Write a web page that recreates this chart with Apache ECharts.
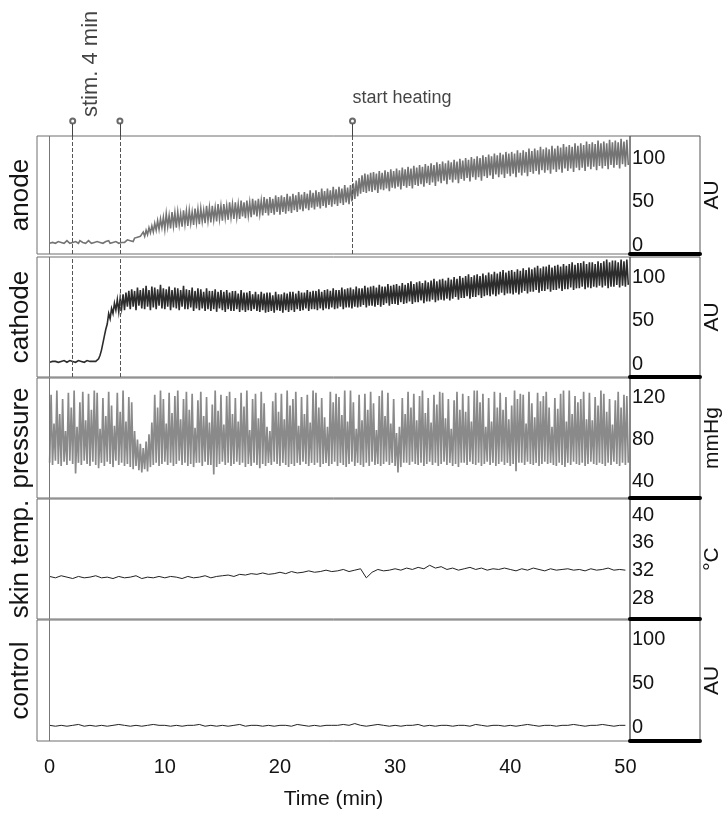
<!DOCTYPE html>
<html><head><meta charset="utf-8">
<script src="https://cdn.jsdelivr.net/npm/echarts@6/dist/echarts.min.js"></script>
<style>html,body{margin:0;padding:0;background:#fff}#c{width:723px;height:813px}</style>
</head><body><div id="c"></div>
<script>
// ---- data ----
const dtFast = 0.125;  // minutes between samples (anode, cathode, pressure)
const dtSlow = 0.5;    // minutes between samples (skin temp, control)
const xTicks = [0, 10, 20, 30, 40, 50];
const eventTimes = [2.0, 6.1, 26.3];      // stim start, stim end, start heating
const stimLabel = 'stim. 4 min';
const heatLabel = 'start heating';
const panelNames = ['anode', 'cathode', 'pressure', 'skin temp.', 'control'];
const panelUnits = ['AU', 'AU', 'mmHg', '°C', 'AU'];
const anodeTicks = [0, 50, 100];
const cathodeTicks = [0, 50, 100];
const pressureTicks = [40, 80, 120];
const skinTicks = [28, 32, 36, 40];
const controlTicks = [0, 50, 100];

const anode = [
2,4,3,5,2,3,4,2, 3,4,2,3,5,3,2,4, 3,2,4,3,2,5,3,3, 4,2,3,5,3,2,4,3,
2,4,3,3,5,2,3,4, 3,5,2,4,3,2,4,3, 2,4,3,5,3,4,6,4, 5,7,4,8,6,9,7,10,
9,15,10,17,12,20,14,22, 15,25,17,28,18,30,20,32, 18,36,21,34,19,38,22,37,
20,38,23,36,21,40,24,39, 22,40,25,38,23,42,26,41, 24,42,27,40,25,45,28,43,
26,45,29,43,27,47,30,45, 28,47,31,45,29,49,32,47, 30,49,32,47,30,51,33,49,
31,51,34,49,32,53,35,51, 33,53,36,51,34,55,37,53, 34,55,37,53,35,57,38,55,
35,57,38,55,36,59,39,56, 37,59,40,57,38,61,41,58, 39,61,42,59,40,63,43,60,
41,63,44,61,42,65,45,62, 43,65,46,63,44,67,47,64, 45,67,48,65,46,69,49,66,
47,69,50,71,53,74,56,77, 59,80,61,82,60,81,62,83, 61,84,63,82,60,85,64,83,
63,86,65,84,62,87,66,85, 65,88,67,86,64,89,68,87, 66,90,68,88,65,91,69,89,
68,92,70,90,67,93,71,91, 69,94,72,92,68,95,73,93, 71,96,74,94,70,97,75,95,
72,98,75,96,71,99,76,97, 74,100,77,98,73,101,78,99, 75,102,78,100,74,103,79,101,
77,104,80,102,76,105,81,103, 78,106,81,104,77,107,82,105, 79,107,82,105,78,109,83,106,
80,109,83,107,79,111,84,108, 82,111,85,109,81,113,86,110, 83,112,86,110,82,114,87,111,
84,114,87,112,83,116,88,113, 85,115,88,113,84,117,89,114, 86,117,89,115,85,119,90,116,
87,118,90,116,86,120,91,117, 88,119,91,117,87,121,92,118, 89,120,92,118,88,122,93,119,
90,121,92
];
const cathode = [
2,4,3,2,3,4,2,3, 3,2,4,3,2,3,4,2, 3,4,2,3,4,2,3,4, 2,3,4,2,3,5,3,2,
3,4,6,10,16,24,32,40, 46,58,52,64,58,70,62,74, 60,76,64,80,62,82,66,84,
63,86,66,84,62,88,67,85, 64,87,63,90,66,85,62,89, 65,88,63,86,67,91,64,87,
63,86,66,89,62,85,65,88, 64,87,62,85,66,90,63,86, 63,85,65,88,61,84,64,87,
62,86,64,83,61,87,63,84, 61,84,63,86,60,83,64,85, 62,83,60,85,63,82,61,84,
61,84,63,81,60,85,62,82, 60,82,62,84,61,80,63,83, 61,80,60,83,62,81,59,82,
60,82,61,79,59,83,62,80, 61,80,59,82,62,81,60,83, 62,83,60,81,63,84,61,82,
62,82,64,85,61,83,63,84, 63,84,62,86,64,83,62,85, 64,86,63,84,65,87,63,85,
64,85,66,88,63,86,65,87, 65,88,64,86,66,89,65,87, 66,87,68,90,65,88,67,89,
67,90,66,88,68,91,66,89, 68,89,70,92,67,90,69,91, 69,92,68,90,71,93,69,91,
70,93,72,95,69,92,71,94, 71,95,73,93,70,96,72,94, 72,96,74,98,71,95,73,97,
74,98,73,96,75,99,73,97, 75,100,77,98,74,101,76,99, 76,101,78,103,75,100,77,102,
77,103,79,101,76,104,78,102, 79,105,78,103,80,106,78,104, 80,106,82,108,79,105,81,107,
81,108,80,106,82,109,80,107, 82,110,84,108,81,111,83,109, 83,111,85,113,82,110,84,112,
84,112,86,114,83,111,85,113, 85,114,87,112,84,115,86,113, 86,115,88,117,85,114,87,116,
87,116,89,118,86,115,88,117, 87,117,89,115,88,118,90,116, 88,118,90,120,87,117,89,119,
89,119,91,117,88,120,90,118, 89,120,91
];
const pressure = [
58,122,56,95,60,126,57,104, 55,118,59,88,56,124,60,110, 57,126,48,92,58,115,56,125,
60,98,57,123,55,108,59,126, 56,124,53,90,58,119,55,102, 59,125,57,112,54,93,60,124,
56,106,58,126,55,97,57,120, 54,115,52,88,55,80,51,76, 49,72,52,78,50,85,54,96,
56,122,58,110,55,126,57,118, 59,95,56,124,58,105,55,121, 57,126,60,99,56,118,58,125,
55,108,57,123,54,91,58,117, 58,125,55,102,59,120,56,96, 56,113,47,126,54,107,57,122,
59,94,56,121,58,125,55,104, 57,119,59,97,56,124,58,111, 54,126,57,89,55,118,58,123,
56,100,53,125,57,114,55,92, 58,88,56,116,59,124,57,106, 55,123,58,99,56,126,54,112,
57,118,55,125,58,93,56,120, 59,104,57,122,55,96,58,126, 56,124,58,110,54,119,57,101,
58,92,55,125,57,115,59,123, 55,120,58,103,56,126,54,97, 57,126,59,115,55,90,58,122,
56,98,54,123,58,108,55,125, 59,114,56,89,57,121,55,126, 57,102,59,124,56,95,58,118,
55,86,49,92,54,119,58,104, 58,125,56,110,59,123,57,98, 56,121,58,126,55,105,57,119,
59,96,56,122,58,113,55,125, 57,124,59,100,56,118,58,90, 55,117,57,125,54,108,58,123,
58,106,56,121,59,97,57,126, 56,126,58,115,55,123,57,92, 59,119,56,97,58,125,55,110,
57,124,59,108,56,120,58,99, 55,112,57,126,50,118,58,123, 58,122,56,95,59,125,57,114,
56,101,58,124,55,116,57,121, 59,125,57,110,58,92,56,119, 55,109,58,123,56,126,54,97,
58,126,56,104,59,121,57,115, 56,118,58,125,55,99,57,124, 59,98,57,120,56,112,58,126,
57,123,55,106,58,118,56,94, 59,117,57,125,55,110,58,122, 56,121,58
];
const skinTemp = [
31.2,31.0,31.3,31.1,30.9,31.2,31.0,31.1,31.3,31.0,
31.1,30.9,31.2,31.0,31.1,31.3,30.9,31.1,31.0,31.2,
31.0,31.2,31.1,30.9,31.2,31.0,31.1,31.3,31.0,31.2,
31.3,31.4,31.2,31.5,31.4,31.6,31.5,31.7,31.5,31.6,
31.8,31.6,31.9,31.7,31.8,32.0,31.8,31.9,32.1,31.9,
32.0,32.2,31.9,32.1,32.3,31.0,31.8,32.2,32.0,32.1,
32.3,32.1,32.4,32.2,32.5,32.3,32.8,32.4,32.6,32.2,
32.4,32.1,32.3,32.5,32.2,32.4,32.1,32.3,32.2,32.4,
32.2,32.0,32.3,32.1,32.4,32.2,32.0,32.3,32.1,32.2,
32.3,32.1,32.2,32.0,32.3,32.1,32.2,32.4,32.1,32.2,
32.1
];
const control = [
3,2,3,2,3,4,2,3,2,3, 2,3,4,3,2,3,2,3,4,3, 3,2,3,2,3,3,4,2,3,2,
3,2,3,4,2,3,3,2,3,2, 3,3,2,4,3,2,3,2,3,3, 3,4,3,5,3,2,3,4,3,2,
3,2,3,3,4,2,3,2,3,3, 2,3,3,2,4,3,2,3,3,2, 3,2,3,4,3,2,3,3,2,3,
3,4,3,2,3,3,4,3,2,3, 3
];

// ---- layout ----
const FONT = 'Liberation Sans, Arial, Helvetica, sans-serif';
const TXT = '#141414';
const X_MIN = -1.1, X_MAX = 50.4;
const L = 37, R = 93;
const panels = [
  {top:136, height:118, min:-10.3, max:125.3, ticks:anodeTicks},
  {top:257, height:120, min:-14.9, max:123,   ticks:cathodeTicks},
  {top:378, height:120, min:24.9,  max:137.9, ticks:pressureTicks},
  {top:499, height:120, min:25.1,  max:42.3,  ticks:skinTicks},
  {top:620, height:121, min:-14.8, max:122.7, ticks:controlTicks}
];
const toXY = (arr, step) => arr.map((v, i) => [i * step, v]);

const grid = [{left:L, right:R, top:0, height:136, outerBoundsMode:'none', containLabel:false}];
const xAxis = [{gridIndex:0, type:'value', min:X_MIN, max:X_MAX, show:false}];
const yAxis = [{gridIndex:0, type:'value', min:0, max:1, show:false}];
panels.forEach(p => {
  grid.push({left:L, right:R, top:p.top, height:p.height, show:true, borderColor:'#6e6e6e', borderWidth:1,
             outerBoundsMode:'none', containLabel:false});
});
panels.forEach(p => {
  grid.push({left:630, width:70, top:p.top, height:p.height, show:true, borderColor:'#555', borderWidth:1,
             outerBoundsMode:'none', containLabel:false});
});
panels.forEach((p, i) => {
  const g = i + 1;
  const last = i === panels.length - 1;
  xAxis.push({
    gridIndex:g, type:'value', min:X_MIN, max:X_MAX,
    axisLine:{show:false}, axisTick:{show:false}, splitLine:{show:false},
    axisLabel: last ? {show:true, customValues:xTicks, margin:16, fontSize:20, color:TXT, fontFamily:FONT} : {show:false},
    name: last ? 'Time (min)' : '', nameLocation:'middle', nameGap:48,
    nameTextStyle:{fontSize:21, color:TXT, fontFamily:FONT}
  });
  yAxis.push({
    gridIndex:g, type:'value', position:'right', min:p.min, max:p.max,
    axisLine:{show:false}, axisTick:{show:false}, splitLine:{show:false},
    axisLabel:{show:true, customValues:p.ticks, margin:2, fontSize:20, color:TXT, fontFamily:FONT},
    name:panelUnits[i], nameLocation:'middle', nameRotate:90, nameGap:72,
    nameTextStyle:{fontSize:21, color:TXT, fontFamily:FONT}
  });
  yAxis.push({
    gridIndex:g, type:'value', position:'left', min:p.min, max:p.max,
    axisLine:{show:false}, axisTick:{show:false}, splitLine:{show:false}, axisLabel:{show:false},
    name:panelNames[i], nameLocation:'middle', nameRotate:90, nameGap:3,
    nameTextStyle:{fontSize:26, color:TXT, fontFamily:FONT}
  });
});
panels.forEach((p, i) => {
  const g = i + 6;
  xAxis.push({gridIndex:g, type:'value', min:0, max:1, axisLine:{show:true, onZero:false, lineStyle:{color:'#000', width:4}},
    axisTick:{show:false}, axisLabel:{show:false}, splitLine:{show:false}});
  yAxis.push({gridIndex:g, type:'value', min:0, max:1, show:false});
});

const zeroLine = {xAxis:0, lineStyle:{type:'solid', color:'#777', width:1}};
const dashed = t => ({xAxis:t, lineStyle:{type:'dashed', color:'#555', width:1}});
function ml(items){ return {symbol:'none', silent:true, animation:false, label:{show:false}, data:items}; }

function lineSeries(name, gi, arr, step, color, width, marks){
  return {
    name, type:'line', xAxisIndex:gi, yAxisIndex:2*gi-1, data:toXY(arr, step),
    showSymbol:false, symbol:'none', sampling:false, animation:false, z:2,
    lineStyle:{color, width, join:'miter'}, markLine:ml(marks)
  };
}

const series = [
  lineSeries('anode', 1, anode, dtFast, '#747474', 1.6, [zeroLine].concat(eventTimes.map(dashed))),
  lineSeries('cathode', 2, cathode, dtFast, '#2c2c2c', 1.6, [zeroLine].concat(eventTimes.slice(0,2).map(dashed))),
  lineSeries('pressure', 3, pressure, dtFast, '#8a8a8a', 1.7, [zeroLine]),
  lineSeries('skin temp.', 4, skinTemp, dtSlow, '#222', 1, [zeroLine]),
  lineSeries('control', 5, control, dtSlow, '#222', 1, [zeroLine]),
  {
    type:'scatter', xAxisIndex:0, yAxisIndex:0, symbol:'emptyCircle', symbolSize:5, animation:false,
    itemStyle:{color:'#444', borderWidth:1}, data:eventTimes.map(t => [t, 0.11]),
    markLine:{symbol:'none', silent:true, animation:false, label:{show:false}, lineStyle:{type:'solid', color:'#444', width:1},
      data:eventTimes.map(t => [{coord:[t, 0]}, {coord:[t, 0.09]}])}
  },
  {
    type:'scatter', xAxisIndex:0, yAxisIndex:0, symbolSize:0, animation:false, silent:true,
    data:[{value:[(eventTimes[0]+eventTimes[1])/2 - 0.45, 0.53], label:{show:true, formatter:stimLabel, position:'inside', rotate:90, fontSize:22, color:TXT, fontFamily:FONT}},
          {value:[eventTimes[2], 0.28], label:{show:true, formatter:heatLabel, position:'right', distance:0, fontSize:18, color:TXT, fontFamily:FONT}}]
  }
];

const chart = echarts.init(document.getElementById('c'), null, {renderer:'canvas'});
chart.setOption({animation:false, backgroundColor:'#fff', grid, xAxis, yAxis, series});
</script></body></html>
